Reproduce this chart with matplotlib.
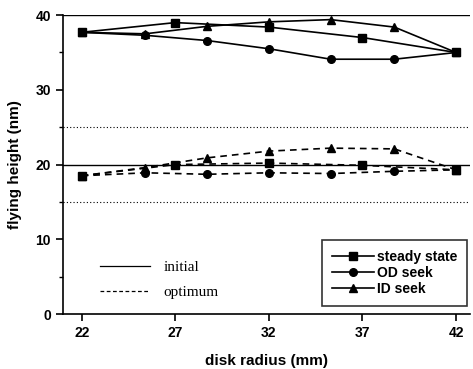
import matplotlib

matplotlib.use("Agg")
import matplotlib.pyplot as plt
from matplotlib.lines import Line2D

# disk radius positions (mm)
r_steady = [22, 27, 32, 37, 42]
r_seek = [22, 25.4, 28.7, 32, 35.3, 38.7, 42]

# initial design, flying height (nm)
init_steady = [37.7, 39.0, 38.4, 37.0, 35.0]
init_od = [37.7, 37.3, 36.6, 35.5, 34.1, 34.1, 35.0]
init_id = [37.7, 37.5, 38.5, 39.1, 39.4, 38.4, 35.0]

# optimum design, flying height (nm)
opt_steady = [18.5, 20.0, 20.2, 19.9, 19.3]
opt_od = [18.5, 18.9, 18.7, 18.9, 18.8, 19.1, 19.3]
opt_id = [18.5, 19.6, 20.9, 21.8, 22.2, 22.1, 19.3]

# design limits / nominal
nominal = [40, 20]
limits = [25, 15]

plt.rcParams["font.family"] = ["Liberation Sans", "DejaVu Sans"]

fig = plt.figure(figsize=(4.73, 3.69), dpi=100)
ax = fig.add_axes([0.133, 0.149, 0.861, 0.810])

ms = 5.5
for r, y, m in [(r_steady, init_steady, "s"), (r_seek, init_od, "o"), (r_seek, init_id, "^")]:
    ax.plot(r, y, color="black", lw=1.2, marker=m, ms=ms)
for r, y, m in [(r_steady, opt_steady, "s"), (r_seek, opt_od, "o"), (r_seek, opt_id, "^")]:
    ax.plot(r, y, color="black", lw=1.2, ls=(0, (4, 3)), marker=m, ms=ms)

for v in nominal:
    ax.axhline(v, color="black", lw=1.0)
for v in limits:
    ax.axhline(v, color="black", lw=0.8, ls=(0, (1, 2)))

ax.set_xlim(21, 42.75)
ax.set_ylim(0, 40)
ax.set_xticks([22, 27, 32, 37, 42])
ax.set_yticks([0, 10, 20, 30, 40])
ax.set_yticks([5, 15, 25, 35], minor=True)
for s in ("top", "right"):
    ax.spines[s].set_visible(False)
for s in ("left", "bottom"):
    ax.spines[s].set_linewidth(1.2)
ax.tick_params(direction="out", length=5, width=1.2, labelsize=10)
ax.tick_params(which="minor", direction="out", length=3, width=1.0)
for lab in ax.get_xticklabels() + ax.get_yticklabels():
    lab.set_fontweight("bold")
ax.set_xlabel("disk radius (mm)", fontsize=11, fontweight="bold", labelpad=10)
ax.set_ylabel("flying height (nm)", fontsize=11, fontweight="bold", labelpad=10)

h_mark = [Line2D([], [], color="black", lw=1.2, marker=m, ms=ms) for m in ("s", "o", "^")]
leg1 = ax.legend(h_mark, ["steady state", "OD seek", "ID seek"], loc="lower right",
                 bbox_to_anchor=(0.993, 0.027), borderaxespad=0, frameon=True, fancybox=False,
                 edgecolor="black", handlelength=3.0, handletextpad=0.2, borderpad=0.75,
                 labelspacing=0.12, prop={"weight": "bold", "size": 10})
leg1.get_frame().set_linewidth(1.2)
ax.add_artist(leg1)

h_style = [Line2D([], [], color="black", lw=0.9), Line2D([], [], color="black", lw=0.9, ls=(0, (3, 2)))]
ax.legend(h_style, ["initial", "optimum"], loc="center left", bbox_to_anchor=(0.091, 0.114),
          borderaxespad=0, borderpad=0, frameon=False, handlelength=3.3, handletextpad=0.85,
          labelspacing=0.75, prop={"family": "Liberation Serif", "size": 11})

fig.savefig("out.png", dpi=100)
